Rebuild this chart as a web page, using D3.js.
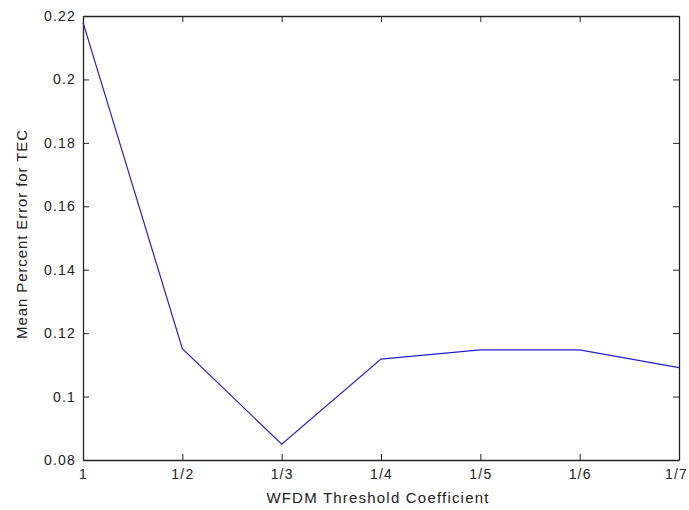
<!DOCTYPE html>
<html><head><meta charset="utf-8">
<script src="https://cdn.jsdelivr.net/npm/d3@7"></script>
<style>body{margin:0;background:#fff}svg{display:block}text{font-family:"Liberation Sans",Arial,sans-serif;fill:#222}</style>
</head><body><svg id="c" width="689" height="510"></svg>
<script>
const categories = ["1","1/2","1/3","1/4","1/5","1/6","1/7"];
const values = [0.218, 0.1151, 0.085, 0.1118, 0.1147, 0.1147, 0.1091];
const yTicks = [0.08, 0.1, 0.12, 0.14, 0.16, 0.18, 0.2, 0.22];
const yTickLabels = ["0.08","0.1","0.12","0.14","0.16","0.18","0.2","0.22"];
const xTitle = "WFDM Threshold Coefficient";
const yTitle = "Mean Percent Error for TEC";

const m = {l:83, r:679, t:16, b:460};
const svg = d3.select("#c");
const x = d3.scalePoint().domain(categories).range([m.l, m.r]);
const y = d3.scaleLinear().domain([0.08, 0.22]).range([m.b, m.t]);
const fs = 14;

const gb = svg.append("g").attr("transform",`translate(0,${m.b})`)
  .call(d3.axisBottom(x).tickSizeInner(-6).tickSizeOuter(0).tickPadding(9));
const gt = svg.append("g").attr("transform",`translate(0,${m.t})`)
  .call(d3.axisTop(x).tickSizeInner(-6).tickSizeOuter(0).tickFormat(""));
const gl = svg.append("g").attr("transform",`translate(${m.l},0)`)
  .call(d3.axisLeft(y).tickValues(yTicks).tickFormat((d,i)=>yTickLabels[i]).tickSizeInner(-6).tickSizeOuter(0).tickPadding(7));
const gr = svg.append("g").attr("transform",`translate(${m.r},0)`)
  .call(d3.axisRight(y).tickValues(yTicks).tickFormat("").tickSizeInner(-6).tickSizeOuter(0));

[gb,gt,gl,gr].forEach(g=>{
  g.selectAll("path.domain").attr("stroke","#222").attr("stroke-width",1.3);
  g.selectAll(".tick line").attr("stroke","#222").attr("stroke-width",1);
  g.selectAll(".tick text").attr("font-size",fs).attr("letter-spacing","1.2px")
    .attr("font-family","'Liberation Sans',Arial,sans-serif").attr("fill","#222");
});
gb.selectAll(".tick text").filter(d=>d===categories[categories.length-1]).attr("dx","-3");

const line = d3.line().x((d,i)=>x(categories[i])).y(d=>y(d));
svg.append("path").datum(values).attr("d",line).attr("fill","none").attr("stroke","#2222cc").attr("stroke-width",1.2);

svg.append("text").attr("x",378).attr("y",503).attr("text-anchor","middle").attr("font-size",15).attr("letter-spacing","1.2px").text(xTitle);
svg.append("text").attr("transform",`translate(27,234) rotate(-90)`).attr("text-anchor","middle").attr("font-size",15).attr("letter-spacing","0.9px").text(yTitle);
</script></body></html>
